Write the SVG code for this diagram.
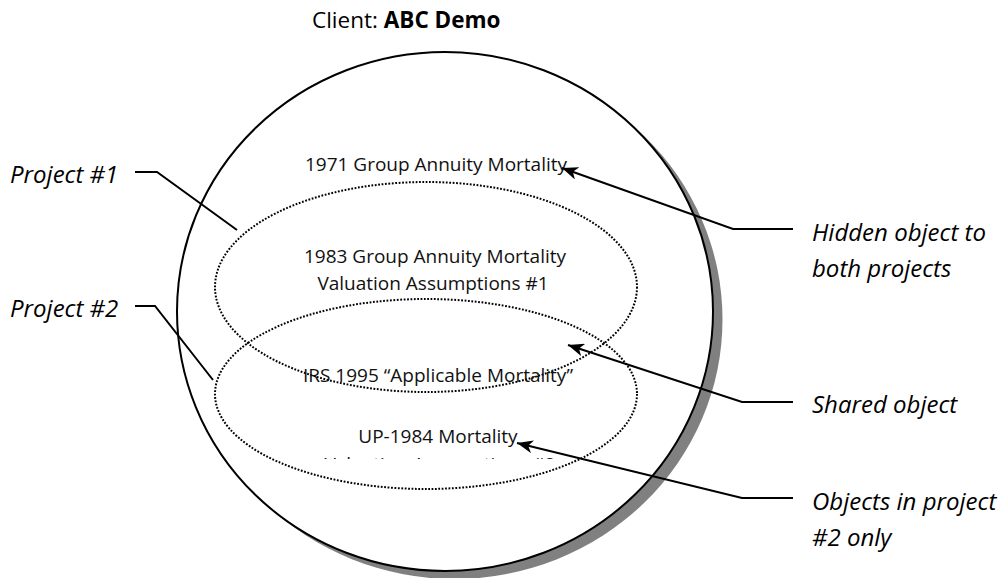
<svg xmlns="http://www.w3.org/2000/svg" width="1005" height="578" viewBox="0 0 1005 578">
<style>
.inner{font-family:"Open Sans","DejaVu Sans",sans-serif;font-size:19px;fill:#111;text-anchor:middle}
.lbl{font-family:"Open Sans","DejaVu Sans",sans-serif;font-size:24px;font-style:italic;fill:#000}
.conn{fill:none;stroke:#000;stroke-width:2}
.dot{fill:none;stroke:#000;stroke-width:2;stroke-dasharray:1.8 1.6}
</style>
<defs>
<marker id="arr" markerUnits="userSpaceOnUse" markerWidth="17" markerHeight="13" viewBox="0 0 17 13" refX="16" refY="6.5" orient="auto">
<path d="M0,0 L16,6.5 L0,13 L4.5,6.5 z" fill="#000"/>
</marker>
<clipPath id="cut"><rect x="0" y="0" width="1005" height="459"/></clipPath>
</defs>
<rect width="1005" height="578" fill="#fff"/>
<g id="title">
<text x="312" y="28" font-family="'Open Sans','DejaVu Sans',sans-serif" font-size="22.5" fill="#000">Client: <tspan font-weight="bold">ABC Demo</tspan></text>
</g>
<g id="client-circle">
<ellipse cx="454.5" cy="319.5" rx="268" ry="259.5" fill="#808080"/>
<ellipse cx="445" cy="311.5" rx="268" ry="259.5" fill="#fff" stroke="#000" stroke-width="2"/>
</g>
<g id="project1">
<ellipse class="dot" cx="426" cy="287" rx="211" ry="105"/>
</g>
<g id="project2">
<ellipse class="dot" cx="426" cy="394" rx="211" ry="95"/>
</g>
<g id="obj-1971"><text class="inner" x="436" y="171">1971 Group Annuity Mortality</text></g>
<g id="obj-1983">
<text class="inner" x="435" y="263">1983 Group Annuity Mortality</text>
<text class="inner" x="433" y="290">Valuation Assumptions #1</text>
</g>
<g id="obj-irs"><text class="inner" x="438" y="382">IRS 1995 “Applicable Mortality”</text></g>
<g id="obj-up1984">
<text class="inner" x="438" y="443">UP-1984 Mortality</text>
<text class="inner" x="440" y="470.8" clip-path="url(#cut)">Valuation Assumptions #2</text>
</g>
<g id="label-project1"><text class="lbl" x="10" y="183">Project #1</text></g>
<g id="label-project2"><text class="lbl" x="10" y="317">Project #2</text></g>
<g id="label-hidden">
<text class="lbl" x="812" y="241">Hidden object to</text>
<text class="lbl" x="812" y="277">both projects</text>
</g>
<g id="label-shared"><text class="lbl" x="812" y="413">Shared object</text></g>
<g id="label-only2">
<text class="lbl" x="812" y="510">Objects in project</text>
<text class="lbl" x="812" y="546">#2 only</text>
</g>
<g id="connectors">
<polyline class="conn" points="135,172 157,172 237,230"/>
<polyline class="conn" points="135,306 155,306 213,380"/>
<polyline class="conn" points="793,229 733,229 562,168" marker-end="url(#arr)"/>
<polyline class="conn" points="793,402 742,402 568,345" marker-end="url(#arr)"/>
<polyline class="conn" points="793,498 742,498 517,443" marker-end="url(#arr)"/>
</g>
</svg>
